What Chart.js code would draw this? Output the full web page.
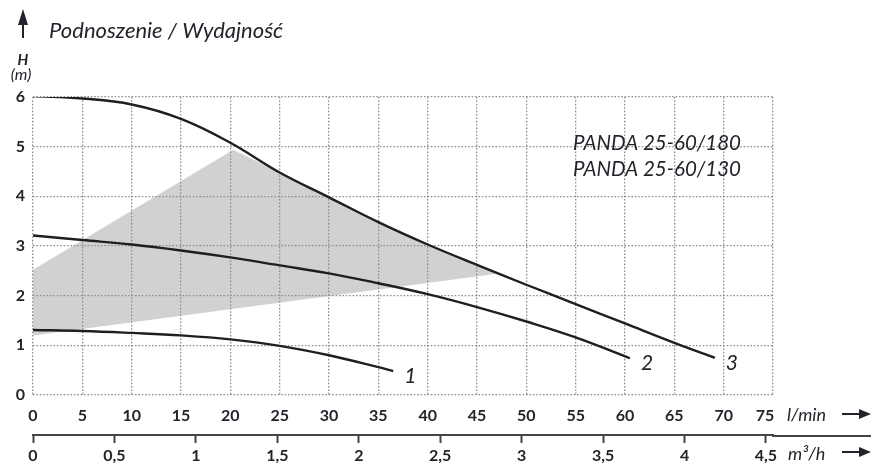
<!DOCTYPE html>
<html>
<head>
<meta charset="utf-8">
<script src="https://cdn.jsdelivr.net/npm/chart.js@4.4.0/dist/chart.umd.min.js"></script>
<style>
  body { margin: 0; background: #fff; }
  canvas { display: block; }
</style>
</head>
<body>
<canvas id="chart" width="871" height="463"></canvas>
<script>
// flow in l/min, head in m
const flow1 = [0, 5, 10, 15, 20, 25, 30, 35, 36.5];
const head1 = [1.31, 1.29, 1.25, 1.2, 1.12, 0.99, 0.8, 0.56, 0.48];
const flow2 = [0, 5, 10, 15, 20, 25, 30, 35, 40, 45, 50, 55, 60.5];
const head2 = [3.21, 3.12, 3.03, 2.91, 2.77, 2.61, 2.45, 2.25, 2.03, 1.77, 1.48, 1.16, 0.74];
const flow3 = [0, 5, 10, 15, 20, 25, 30, 35, 40, 45, 50, 55, 60, 65, 69.1];
const head3 = [6.02, 5.97, 5.85, 5.56, 5.08, 4.48, 3.98, 3.48, 3.03, 2.62, 2.22, 1.83, 1.44, 1.05, 0.75];

// grey working field (closed outline)
const fieldFlow = [0, 0, 20.3, 25, 30, 35, 40, 45, 47, 0];
const fieldHead = [1.2, 2.52, 4.94, 4.48, 3.98, 3.48, 3.03, 2.62, 2.44, 1.2];

const curveNames = ['1', '2', '3'];
const models = ['PANDA 25-60/180', 'PANDA 25-60/130'];
const m3hTicks = [0, 0.5, 1, 1.5, 2, 2.5, 3, 3.5, 4, 4.5];

const ink = '#23232b';
const gridCol = '#8f8f8f';

function pts(xs, ys) {
  return xs.map((x, i) => ({ x: x, y: ys[i] }));
}

function curve(xs, ys) {
  return {
    data: pts(xs, ys),
    showLine: true,
    borderColor: '#1f1f1f',
    borderWidth: 2.4,
    pointRadius: 0,
    tension: 0.4,
    fill: false,
    order: 0
  };
}

function rightArrow(ctx, x0, y, x1) {
  ctx.lineWidth = 2;
  ctx.beginPath();
  ctx.moveTo(x0, y);
  ctx.lineTo(x1 - 10, y);
  ctx.stroke();
  ctx.beginPath();
  ctx.moveTo(x1, y);
  ctx.lineTo(x1 - 12, y - 5);
  ctx.lineTo(x1 - 12, y + 5);
  ctx.closePath();
  ctx.fill();
}

const textPlugin = {
  id: 'texts',
  afterDraw(chart) {
    const ctx = chart.ctx;
    const xs = chart.scales.x, ys = chart.scales.y, x2 = chart.scales.x2;
    ctx.save();
    ctx.fillStyle = ink;
    ctx.textBaseline = 'alphabetic';

    // lower axis line runs on under the unit label
    ctx.strokeStyle = '#444';
    ctx.lineWidth = 2;
    ctx.beginPath();
    ctx.moveTo(x2.right - 1, x2.top + 1);
    ctx.lineTo(chart.width, x2.top + 1);
    ctx.stroke();
    ctx.strokeStyle = ink;

    // title and H axis
    ctx.textAlign = 'left';
    ctx.font = 'italic 22px Lato';
    ctx.fillText('Podnoszenie / Wydajność', 49, 38);
    ctx.lineWidth = 2;
    ctx.beginPath();
    ctx.moveTo(23, 38);
    ctx.lineTo(23, 22);
    ctx.stroke();
    ctx.beginPath();
    ctx.moveTo(23, 9);
    ctx.lineTo(18, 25);
    ctx.lineTo(28, 25);
    ctx.closePath();
    ctx.fill();
    ctx.textAlign = 'center';
    ctx.font = 'bold italic 15px Lato';
    ctx.fillText('H', 23, 65);
    ctx.font = 'italic 16px Lato';
    ctx.fillText('(m)', 21, 80);

    // units with arrows
    ctx.textAlign = 'left';
    ctx.font = 'italic 18px Lato';
    ctx.fillText('l/min', 787, 421);
    ctx.fillText('m³/h', 788, 460);
    rightArrow(ctx, 842, 414, 871);
    rightArrow(ctx, 842, 452, 871);

    // model names
    ctx.font = 'italic 20.5px Lato';
    models.forEach((m, i) => ctx.fillText(m, 573, 150 + i * 26));

    // curve numbers next to the curve ends
    ctx.font = 'italic 21px Lato';
    const ends = [[flow1, head1], [flow2, head2], [flow3, head3]];
    ends.forEach(([f, h], i) => {
      const px = xs.getPixelForValue(f[f.length - 1]);
      const py = ys.getPixelForValue(h[h.length - 1]);
      ctx.fillText(curveNames[i], px + 11, py + 12);
    });
    ctx.restore();
  }
};

const tickFont = { family: 'Lato', size: 16, weight: 'bold' };

new Chart(document.getElementById('chart'), {
  type: 'scatter',
  data: {
    datasets: [
      curve(flow1, head1),
      curve(flow2, head2),
      curve(flow3, head3),
      {
        data: pts(fieldFlow, fieldHead),
        showLine: true,
        borderWidth: 0,
        borderColor: 'rgba(0,0,0,0)',
        backgroundColor: 'rgba(140,140,146,0.4)',
        pointRadius: 0,
        tension: 0,
        fill: 'shape',
        order: 10
      }
    ]
  },
  options: {
    responsive: false,
    animation: false,
    events: [],
    layout: { padding: { top: 97, right: 98, left: 0, bottom: 0 } },
    plugins: {
      legend: { display: false },
      tooltip: { enabled: false }
    },
    scales: {
      x: {
        type: 'linear',
        position: 'bottom',
        weight: 0,
        min: 0,
        max: 75,
        ticks: {
          stepSize: 5,
          font: tickFont,
          color: ink,
          padding: 11,
          maxRotation: 0,
          callback: v => v === 75 ? '75\u2002\u2002' : String(v)
        },
        grid: { color: gridCol, lineWidth: 1.3, drawTicks: false },
        border: { display: false, dash: [1.6, 1.8] },
        afterFit: s => { s.height = 40; }
      },
      x2: {
        type: 'linear',
        position: 'bottom',
        weight: 1,
        min: 0,
        max: 4.543,
        afterBuildTicks: s => { s.ticks = m3hTicks.map(v => ({ value: v })); },
        ticks: {
          font: tickFont,
          color: ink,
          padding: 3,
          maxRotation: 0,
          autoSkip: false,
          callback: v => String(v).replace('.', ',')
        },
        grid: {
          drawOnChartArea: false,
          drawTicks: true,
          tickLength: 8,
          tickWidth: 2,
          tickColor: '#444'
        },
        border: { display: true, color: '#444', width: 2 },
        afterFit: s => { s.height = 28; }
      },
      y: {
        type: 'linear',
        min: 0,
        max: 6,
        ticks: { stepSize: 1, font: tickFont, color: ink, padding: 8 },
        grid: { color: gridCol, lineWidth: 1.3, drawTicks: false },
        border: { display: false, dash: [1.6, 1.8] },
        afterFit: s => { s.width = 33; }
      }
    }
  },
  plugins: [textPlugin]
});
</script>
</body>
</html>
